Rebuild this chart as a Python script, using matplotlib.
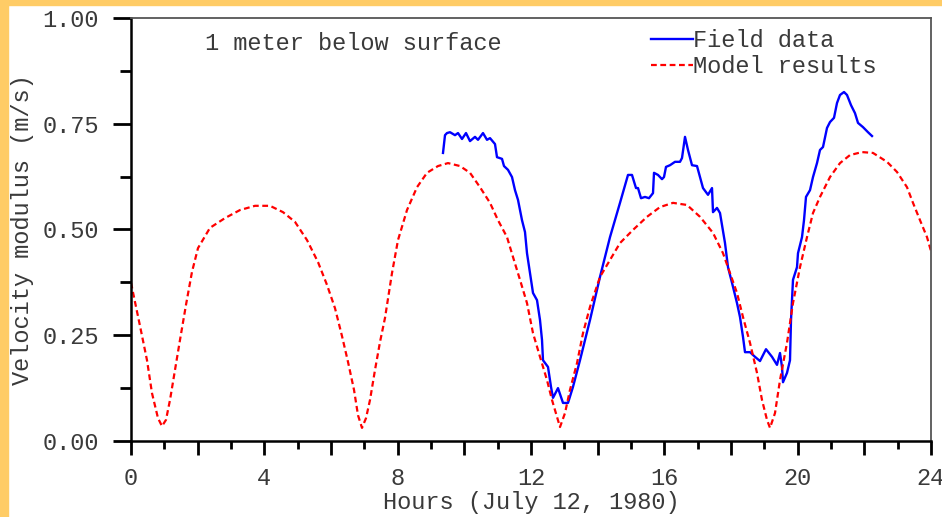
import numpy as np
import matplotlib
matplotlib.use("Agg")
from matplotlib import pyplot as plt
from matplotlib.patches import Rectangle

# model results (red dashed), hours vs m/s
model_h = [0.0, 0.27, 0.48, 0.63, 0.81, 0.93, 1.05, 1.17, 1.32, 1.47, 1.65, 1.83,
           2.01, 2.37, 2.82, 3.27, 3.72, 4.17, 4.56, 4.92, 5.28, 5.61, 5.88, 6.12,
           6.33, 6.51, 6.69, 6.81, 6.93, 7.05, 7.17, 7.32, 7.47, 7.62, 7.83, 8.01,
           8.28, 8.58, 8.88, 9.21, 9.51, 9.87, 10.17, 10.47, 10.77, 11.01, 11.28,
           11.46, 11.67, 11.88, 12.06, 12.27, 12.48, 12.63, 12.78, 12.87, 13.02,
           13.17, 13.38, 13.56, 13.77, 14.07, 14.37, 14.67, 15.06, 15.48, 15.87,
           16.26, 16.68, 17.07, 17.46, 17.76, 17.97, 18.18, 18.36, 18.57, 18.78,
           18.93, 19.08, 19.17, 19.32, 19.47, 19.68, 19.86, 20.07, 20.28, 20.46,
           20.67, 20.97, 21.27, 21.57, 21.93, 22.26, 22.68, 22.98, 23.28, 23.46,
           23.67, 23.88, 24.0]
model_v = [0.374, 0.272, 0.191, 0.113, 0.054, 0.035, 0.050, 0.097, 0.168, 0.239,
           0.322, 0.400, 0.456, 0.504, 0.527, 0.546, 0.556, 0.556, 0.541, 0.518,
           0.475, 0.423, 0.369, 0.314, 0.248, 0.187, 0.121, 0.061, 0.031, 0.054,
           0.097, 0.168, 0.234, 0.291, 0.397, 0.475, 0.546, 0.600, 0.634, 0.650,
           0.657, 0.650, 0.634, 0.600, 0.563, 0.522, 0.482, 0.435, 0.381, 0.326,
           0.255, 0.199, 0.144, 0.097, 0.057, 0.033, 0.066, 0.121, 0.184, 0.255,
           0.317, 0.388, 0.428, 0.468, 0.499, 0.530, 0.553, 0.563, 0.558, 0.530,
           0.492, 0.444, 0.397, 0.350, 0.293, 0.232, 0.161, 0.097, 0.050, 0.031,
           0.066, 0.144, 0.232, 0.326, 0.411, 0.482, 0.539, 0.577, 0.624, 0.657,
           0.676, 0.683, 0.681, 0.660, 0.636, 0.600, 0.563, 0.522, 0.482, 0.449]

# field data (blue solid)
field_h = [9.36, 9.42, 9.48, 9.57, 9.72, 9.81, 9.93, 10.05, 10.17, 10.32, 10.41,
           10.56, 10.68, 10.77, 10.92, 10.98, 11.13, 11.19, 11.31, 11.43, 11.52,
           11.61, 11.73, 11.82, 11.88, 11.97, 12.06, 12.18, 12.27, 12.33, 12.36,
           12.51, 12.60, 12.66, 12.81, 12.96, 13.11, 13.26, 13.47, 13.77, 14.07,
           14.37, 14.67, 14.91, 15.03, 15.15, 15.21, 15.30, 15.42, 15.54, 15.66,
           15.69, 15.81, 15.93, 15.99, 16.05, 16.17, 16.32, 16.47, 16.53, 16.62,
           16.71, 16.83, 16.98, 17.07, 17.16, 17.31, 17.43, 17.46, 17.58, 17.67,
           17.82, 17.91, 18.03, 18.18, 18.27, 18.36, 18.42, 18.57, 18.72, 18.87,
           19.05, 19.23, 19.38, 19.47, 19.53, 19.56, 19.68, 19.77, 19.80, 19.86,
           19.98, 20.01, 20.13, 20.19, 20.25, 20.37, 20.46, 20.58, 20.67, 20.76,
           20.88, 20.97, 21.09, 21.18, 21.27, 21.39, 21.48, 21.60, 21.72, 21.81,
           21.96, 22.11, 22.23]
field_v = [0.681, 0.723, 0.728, 0.730, 0.723, 0.728, 0.714, 0.728, 0.709, 0.719,
           0.712, 0.728, 0.712, 0.716, 0.702, 0.671, 0.667, 0.650, 0.641, 0.624,
           0.593, 0.570, 0.522, 0.494, 0.444, 0.397, 0.350, 0.333, 0.286, 0.239,
           0.191, 0.175, 0.128, 0.102, 0.125, 0.090, 0.090, 0.128, 0.191, 0.286,
           0.388, 0.482, 0.563, 0.629, 0.629, 0.598, 0.598, 0.574, 0.577, 0.574,
           0.586, 0.634, 0.629, 0.619, 0.624, 0.648, 0.652, 0.660, 0.660, 0.669,
           0.719, 0.688, 0.652, 0.650, 0.624, 0.598, 0.582, 0.598, 0.541, 0.551,
           0.539, 0.468, 0.411, 0.374, 0.326, 0.293, 0.246, 0.210, 0.210, 0.199,
           0.189, 0.217, 0.199, 0.180, 0.208, 0.175, 0.139, 0.161, 0.191, 0.286,
           0.381, 0.411, 0.444, 0.482, 0.522, 0.577, 0.593, 0.624, 0.657, 0.688,
           0.695, 0.740, 0.754, 0.764, 0.799, 0.818, 0.825, 0.818, 0.794, 0.775,
           0.752, 0.742, 0.730, 0.721]

plt.rcParams['font.family'] = ['Liberation Mono', 'DejaVu Sans Mono']
plt.rcParams['font.size'] = 17
txtcol = '#3a3a3a'

fig = plt.figure(figsize=(9.42, 5.17), dpi=100, facecolor='white')
# orange frame strips along left and top
fig.patches.append(Rectangle((0, 0), 8/942, 1, transform=fig.transFigure,
                             color='#FFCC66', zorder=0))
fig.patches.append(Rectangle((0, 1 - 5/517), 1, 5/517, transform=fig.transFigure,
                             color='#FFCC66', zorder=0))

ax = fig.add_axes([131/942, 76/517, 800/942, 423/517])
ax.plot(field_h, field_v, color='#0000FF', lw=1.7, label='Field data')
ax.plot(model_h, model_v, color='#FF0000', lw=1.6, dashes=(2.6, 1.6),
        label='Model results')

ax.set_xlim(0, 24)
ax.set_ylim(0, 1)
ax.set_xticks(np.arange(0, 25, 2))
ax.set_xticklabels(['0', '', '4', '', '8', '', '12', '', '16', '', '20', '', '24'])
ax.set_xticks(np.arange(0, 25, 1), minor=True)
ax.set_yticks([0, 0.25, 0.5, 0.75, 1.0])
ax.set_yticklabels(['0.00', '0.25', '0.50', '0.75', '1.00'])
ax.set_yticks(np.arange(0, 1.01, 0.125), minor=True)
ax.tick_params(which='major', direction='out', length=10, width=2, colors='black',
               labelcolor=txtcol)
ax.tick_params(which='minor', direction='out', length=6, width=2, colors='black')
ax.tick_params(axis='x', which='major', pad=9)
ax.tick_params(axis='y', which='major', length=13, pad=10)
ax.tick_params(axis='y', which='minor', length=8)

for s in ['left', 'bottom']:
    ax.spines[s].set_linewidth(1.8)
    ax.spines[s].set_color('black')
for s in ['top', 'right']:
    ax.spines[s].set_linewidth(1.3)
    ax.spines[s].set_color('#555555')

ax.set_xlabel('Hours (July 12, 1980)', color=txtcol, labelpad=0.5)
ax.set_ylabel('Velocity modulus (m/s)', color=txtcol, labelpad=6)

ax.text(2.22, 0.94, '1 meter below surface', color=txtcol, va='center', ha='left')

leg = ax.legend(loc='upper left', bbox_to_anchor=(0.629, 1.012), frameon=False,
                handlelength=1.8, handletextpad=0.0, labelspacing=0.12,
                borderaxespad=0.3)
for t in leg.get_texts():
    t.set_color(txtcol)

fig.savefig('out.png', dpi=100, facecolor='white')
